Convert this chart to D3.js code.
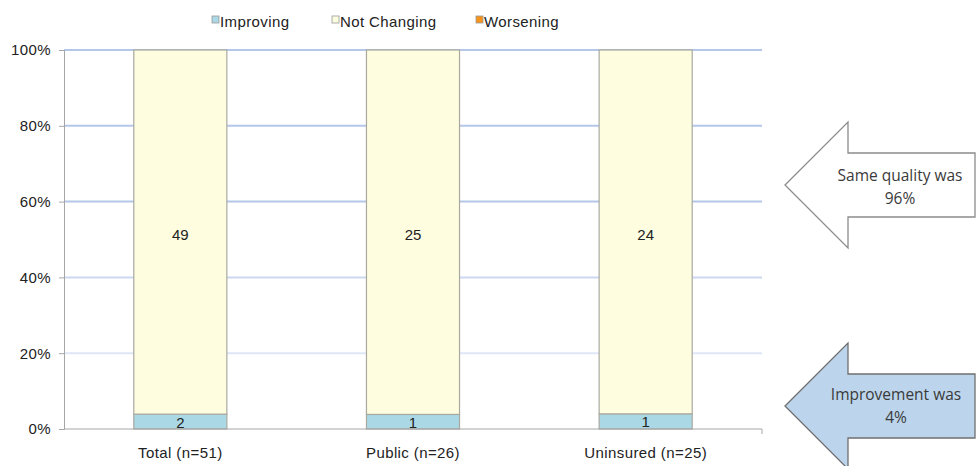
<!DOCTYPE html>
<html>
<head>
<meta charset="utf-8">
<script src="https://cdn.jsdelivr.net/npm/d3@7"></script>
<style>
  html, body { margin: 0; padding: 0; background: #fff; }
  svg { display: block; }
</style>
</head>
<body>
<svg id="chart" width="976" height="466"></svg>
<script>
// Patient groups and counts per quality-change status
const categories = ["Total (n=51)", "Public (n=26)", "Uninsured (n=25)"];
const seriesNames = ["Improving", "Not Changing", "Worsening"];
const improving = [2, 1, 1];
const notChanging = [49, 25, 24];
const worsening = [0, 0, 0];
const yTicks = [0, 0.2, 0.4, 0.6, 0.8, 1.0];
const colors = ["#abd8e5", "#fefde0", "#f7941d"];

const svg = d3.select("#chart");
const font = "'Liberation Sans', Arial, sans-serif";
const fs = 15, ls = 0.4;

const margin = { left: 64, right: 214, top: 50, bottom: 37 };
const W = 976, H = 466;
const x0 = margin.left, x1 = W - margin.right;
const y0 = H - margin.bottom, y1 = margin.top;

const x = d3.scaleBand().domain(categories).range([x0, x1]).paddingInner(0.6).paddingOuter(0.3);
const y = d3.scaleLinear().domain([0, 1]).range([y0, y1]);

// Build percent-stacked rows
const rows = categories.map((c, i) => {
  const total = improving[i] + notChanging[i] + worsening[i];
  return { cat: c, total, "Improving": improving[i], "Not Changing": notChanging[i], "Worsening": worsening[i] };
});
const stack = d3.stack().keys(seriesNames)
  .value((d, k) => d[k] / d.total);
const layers = stack(rows);

// Gridlines
svg.append("g").selectAll("line").data(yTicks.filter(t => t > 0)).join("line")
  .attr("x1", x0).attr("x2", x1)
  .attr("y1", d => y(d)).attr("y2", d => y(d))
  .attr("stroke", d => d >= 0.6 ? "#b4c7e9" : (d >= 0.4 ? "#cbd8f0" : "#dfe7f6"))
  .attr("stroke-width", 2);

// Y axis
const yAxis = d3.axisLeft(y).tickValues(yTicks).tickFormat(d3.format(".0%")).tickSize(5).tickPadding(8);
const gy = svg.append("g").attr("transform", `translate(${x0},0)`).call(yAxis);
gy.select(".domain").attr("stroke", "#a6a6a6");
gy.selectAll(".tick line").attr("stroke", "#a6a6a6");
gy.selectAll(".tick text").attr("font-family", font).attr("font-size", fs)
  .attr("letter-spacing", ls).attr("fill", "#222");

// Bars
layers.forEach((layer, li) => {
  svg.append("g").selectAll("rect").data(layer).join("rect")
    .attr("x", d => x(d.data.cat))
    .attr("width", x.bandwidth())
    .attr("y", d => y(d[1]))
    .attr("height", d => y(d[0]) - y(d[1]))
    .attr("fill", colors[li])
    .attr("stroke", d => (d[1] - d[0]) > 0 ? "#a9a9a0" : "none")
    .attr("stroke-width", 1.2);
});

// Segment value labels
layers.forEach((layer, li) => {
  svg.append("g").selectAll("text").data(layer.filter(d => d.data[seriesNames[li]] > 0)).join("text")
    .attr("x", d => x(d.data.cat) + x.bandwidth() / 2)
    .attr("y", d => {
      const mid = (y(d[0]) + y(d[1])) / 2;
      return (y(d[0]) - y(d[1])) > 40 ? mid + 8 : mid + 6;
    })
    .attr("text-anchor", "middle")
    .attr("font-family", font).attr("font-size", fs).attr("fill", "#222")
    .text(d => d.data[seriesNames[li]]);
});

// X axis
const xAxis = d3.axisBottom(x).tickSize(0).tickPadding(18);
const gx = svg.append("g").attr("transform", `translate(0,${y0})`).call(xAxis);
gx.select(".domain").attr("stroke", "#a6a6a6").attr("d", `M${x0},0H${x1}V5`);
gx.selectAll(".tick text").attr("font-family", font).attr("font-size", fs)
  .attr("letter-spacing", ls).attr("fill", "#222");

// Legend
const legendX = [212, 332, 476];
const lg = svg.append("g");
seriesNames.forEach((s, i) => {
  lg.append("rect").attr("x", legendX[i]).attr("y", 16).attr("width", 7).attr("height", 7)
    .attr("fill", colors[i]).attr("stroke", "#999").attr("stroke-width", 0.8);
  lg.append("text").attr("x", legendX[i] + 8).attr("y", 27)
    .attr("font-family", font).attr("font-size", fs).attr("letter-spacing", ls)
    .attr("fill", "#222").text(s);
});

// Callout arrows summarising the total group
const pct = d3.format(".0%");
const tot = rows[0];
const callouts = [
  { tipY: 185, head: 63, shaft: 32, fill: "#ffffff", stroke: "#8c8c8c", tx: 900, base: 181,
    lines: ["Same quality was", pct(tot["Not Changing"] / tot.total)] },
  { tipY: 406, head: 63, shaft: 32, fill: "#bcd5ec", stroke: "#6f6f6f", tx: 896, base: 400,
    lines: ["Improvement was", pct(tot["Improving"] / tot.total)] }
];
const tipX = 785, neckX = 848, endX = 975;
callouts.forEach(c => {
  const p = d3.path();
  p.moveTo(tipX, c.tipY);
  p.lineTo(neckX, c.tipY - c.head);
  p.lineTo(neckX, c.tipY - c.shaft);
  p.lineTo(endX, c.tipY - c.shaft);
  p.lineTo(endX, c.tipY + c.shaft);
  p.lineTo(neckX, c.tipY + c.shaft);
  p.lineTo(neckX, c.tipY + c.head);
  p.closePath();
  svg.append("path").attr("d", p.toString())
    .attr("fill", c.fill).attr("stroke", c.stroke).attr("stroke-width", 1.3);
  c.lines.forEach((t, i) => {
    svg.append("text").attr("x", c.tx).attr("y", c.base + i * 23)
      .attr("text-anchor", "middle")
      .attr("font-family", "'Open Sans', sans-serif").attr("font-size", 15.5).attr("fill", "#3a3a3a")
      .text(t);
  });
});
</script>
</body>
</html>
